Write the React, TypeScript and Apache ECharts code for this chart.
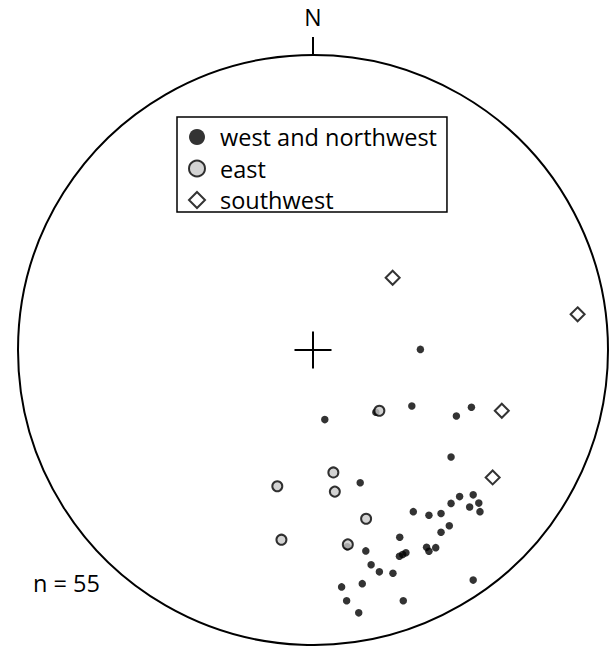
import React, { useEffect, useRef } from "react";
import * as echarts from "echarts";

// Stereonet coordinates (unit circle, x = east, y = north)
const westNorthwest: [number, number][] = [
  [0.364, 0.002], [0.040, -0.236], [0.213, -0.211], [0.335, -0.190], [0.486, -0.224],
  [0.537, -0.194], [0.468, -0.363], [0.160, -0.450], [0.340, -0.548], [0.393, -0.560],
  [0.434, -0.554], [0.468, -0.520], [0.497, -0.497], [0.543, -0.491], [0.562, -0.519],
  [0.531, -0.532], [0.566, -0.548], [0.462, -0.596], [0.434, -0.618], [0.294, -0.635],
  [0.385, -0.669], [0.393, -0.682], [0.416, -0.670], [0.293, -0.699], [0.304, -0.693],
  [0.315, -0.687], [0.179, -0.681], [0.197, -0.728], [0.225, -0.752], [0.271, -0.757],
  [0.167, -0.792], [0.097, -0.803], [0.114, -0.850], [0.155, -0.891], [0.306, -0.850],
  [0.543, -0.780], [0.116, -0.667],
];
const east: [number, number][] = [
  [0.225, -0.206], [0.069, -0.415], [-0.121, -0.462], [0.074, -0.480],
  [0.180, -0.572], [-0.107, -0.643], [0.118, -0.659],
];
const southwest: [number, number][] = [
  [0.270, 0.245], [0.897, 0.121], [0.640, -0.206], [0.609, -0.432],
];
const seriesNames = ["west and northwest", "east", "southwest"];
const countLabel = "n = 55";
const northLabel = "N";

const FONT = "'Open Sans', sans-serif";

export default function App() {
  const ref = useRef<HTMLDivElement>(null);
  useEffect(() => {
    document.body.style.margin = "0";
    const chart = echarts.init(ref.current!, null, { renderer: "svg" });
    const option: any = {
      animation: false,
      backgroundColor: "#fff",
      grid: { left: 18, top: 55, width: 590, height: 590 },
      xAxis: { type: "value", min: -1, max: 1, show: false },
      yAxis: { type: "value", min: -1, max: 1, show: false },
      legend: {
        orient: "vertical",
        left: 177,
        top: 117,
        borderColor: "#000",
        borderWidth: 1.5,
        padding: [8, 10, 0, 11],
        itemGap: 7.5,
        itemWidth: 16,
        itemHeight: 16,
        textStyle: {
          fontFamily: FONT,
          fontSize: 23.5,
          lineHeight: 24,
          color: "#000",
          padding: [0, 0, 0, 10],
        },
        data: seriesNames,
      },
      series: [
        {
          name: seriesNames[0],
          type: "scatter",
          symbol: "circle",
          symbolSize: 7.5,
          itemStyle: { color: "#000" },
          data: westNorthwest,
          z: 3,
        },
        {
          name: seriesNames[1],
          type: "scatter",
          symbol: "circle",
          symbolSize: 10,
          itemStyle: { color: "#c8c8c8", borderColor: "#000", borderWidth: 2 },
          data: east,
          z: 4,
        },
        {
          name: seriesNames[2],
          type: "scatter",
          symbol: "diamond",
          symbolSize: 14,
          itemStyle: { color: "#fff", borderColor: "#000", borderWidth: 2 },
          data: southwest,
          z: 5,
        },
      ],
    };
    chart.setOption(option);

    const c = chart.convertToPixel({ gridIndex: 0 }, [0, 0]) as number[];
    const e = chart.convertToPixel({ gridIndex: 0 }, [1, 0]) as number[];
    const r = e[0] - c[0];
    const cross = 18.5;
    chart.setOption({
      graphic: [
        {
          type: "circle",
          shape: { cx: c[0], cy: c[1], r },
          style: { fill: "none", stroke: "#000", lineWidth: 2 },
          z: 1,
        },
        {
          type: "line",
          shape: { x1: c[0] - cross, y1: c[1], x2: c[0] + cross, y2: c[1] },
          style: { stroke: "#000", lineWidth: 2 },
        },
        {
          type: "line",
          shape: { x1: c[0], y1: c[1] - cross, x2: c[0], y2: c[1] + cross },
          style: { stroke: "#000", lineWidth: 2 },
        },
        {
          type: "line",
          shape: { x1: c[0], y1: c[1] - r - 18, x2: c[0], y2: c[1] - r },
          style: { stroke: "#000", lineWidth: 2 },
        },
        {
          type: "text",
          x: c[0],
          y: c[1] - r - 38,
          style: {
            text: northLabel,
            fontFamily: FONT,
            fontSize: 23,
            fill: "#000",
            align: "center",
            verticalAlign: "middle",
          },
        },
        {
          type: "text",
          x: 33,
          y: 583,
          style: {
            text: countLabel,
            fontFamily: FONT,
            fontSize: 23.5,
            fill: "#000",
            align: "left",
            verticalAlign: "middle",
          },
        },
      ],
    });
    return () => chart.dispose();
  }, []);
  return <div ref={ref} style={{ width: 614, height: 646 }} />;
}
